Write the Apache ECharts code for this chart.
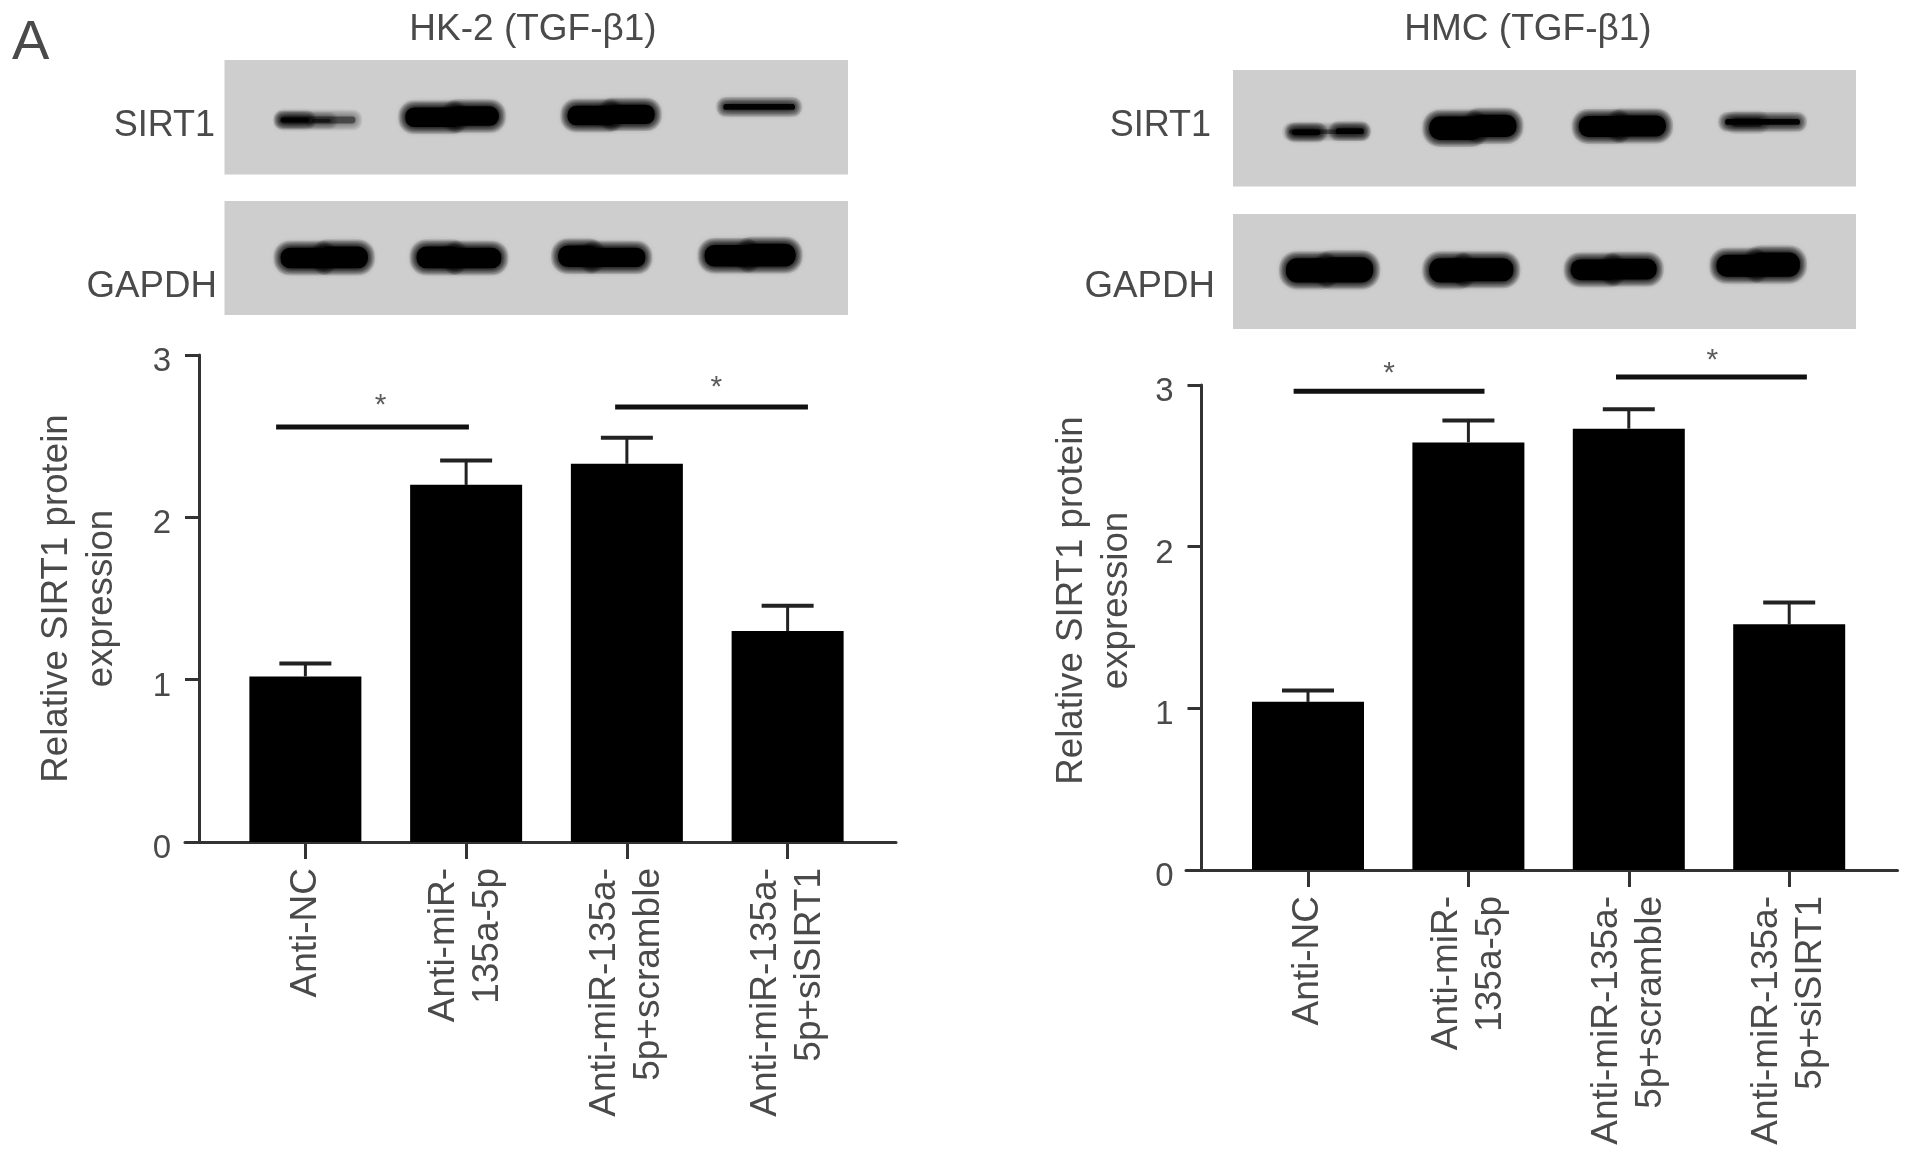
<!DOCTYPE html>
<html><head><meta charset="utf-8">
<style>html,body{margin:0;padding:0;background:#fff}#c{width:1913px;height:1154px;filter:blur(0.6px)}</style>
<script src="https://cdn.jsdelivr.net/npm/echarts@6/dist/echarts.min.js"></script>
</head><body><div id="c"></div>
<script>
// ---- data ----
const categories = ['Anti-NC','Anti-miR-\n135a-5p','Anti-miR-135a-\n5p+scramble','Anti-miR-135a-\n5p+siSIRT1'];
const yTicks = [0,1,2,3];
const yTitle = 'Relative SIRT1 protein\nexpression';
const titleHK = 'HK-2 (TGF-\u03b21)';
const titleHMC = 'HMC (TGF-\u03b21)';

const hkMeans = [1.02,2.20,2.33,1.30];
const hkUpper = [1.10,2.35,2.49,1.455];
const hmcMeans = [1.04,2.645,2.73,1.52];
const hmcUpper = [1.11,2.78,2.85,1.655];

// significance brackets: [fromLane, toLane, level]
const hkSig = [[-0.18,1.02,2.557],[1.93,3.13,2.68]];
const hmcSig = [[-0.09,1.10,2.962],[1.92,3.11,3.05]];
// significance stars: [lane, level]
const hkStars = [[0.47,2.72],[2.56,2.83]];
const hmcStars = [[0.505,3.10],[2.52,3.18]];

// blot bands, in percent of the blot: [start, end, centre, thickness, density]
const hkSirt1Bands = [[9,13.5,52.4,4,1],[9,21,52.4,6,.45],[14,17,53,3,.5],
  [29,38,50,17,1],[36,44,49,17,1],[55,63,48.5,17,1],[61,69,47.5,17,1],[80,91.5,41,5,.95]];
const hkGapdhBands = [[9,17,50,18,1],[15,23,49.5,19,1],[30.8,38,49.5,19,1],[36,44.4,50,18,1],
  [53.5,60,48.5,19,1],[58,67.5,49.5,17,1],[77,85,48,19,1],[83,91.6,47.5,20,1]];
const hmcSirt1Bands = [[9.5,14,53.5,5,1],[16.5,21,52.5,5,.95],[9,21,53,4,.45],
  [31.5,40,50,20,1],[38,45.5,48,19,1],[55.5,63,48.5,18,1],[61,69.5,48,18,1],[79,91,44.6,5,.95],[80,85,45,8,.45]];
const hmcGapdhBands = [[8.5,16,49,21,1],[14,22.5,48.5,22,1],[31.5,38,49,21,1],[36,45,48.5,20,1],
  [54.2,62,48.5,18,1],[60,68,48,18,1],[77.6,85,45,19,1],[83,91,44,21,1]];

// ---- build ----
const ink = '#4a4a4a';
const font = '"Liberation Sans", Arial, sans-serif';
const grid=[], xAxis=[], yAxis=[], series=[];

function band(params, api){
  const a = api.coord([api.value(0), api.value(2)]);
  const b = api.coord([api.value(1), api.value(2)]);
  const t = api.size([0, api.value(3)])[1];
  const d = api.value(4);
  const children = [];
  const steps = 5, fade = 7;
  for(let k=steps;k>=0;k--){
    const e = fade*k/steps;
    const h = t + 2*e, w = b[0]-a[0] + 2*e;
    const alpha = k===0 ? d : 0.14*d;
    children.push({type:'rect',
      shape:{x:a[0]-e, y:a[1]-h/2, width:w, height:h, r:h/2.2},
      style:{fill:'rgba(0,0,0,'+alpha+')', shadowBlur:9, shadowColor:'rgba(0,0,0,'+alpha+')'}});
  }
  return {type:'group', children};
}
function errorBar(params, api){
  const x = api.value(0);
  const bottom = api.coord([x, api.value(1)]);
  const top = api.coord([x, api.value(2)]);
  return {type:'group', children:[
    {type:'line', shape:{x1:top[0], y1:bottom[1], x2:top[0], y2:top[1]}, style:{stroke:'#222', lineWidth:3, fill:null}},
    {type:'line', shape:{x1:top[0]-26, y1:top[1], x2:top[0]+26, y2:top[1]}, style:{stroke:'#222', lineWidth:4, fill:null}}
  ]};
}
function addBlot(rect, bands){
  const i = grid.length;
  grid.push(Object.assign({show:true, backgroundColor:'#cecece', borderWidth:0, outerBoundsMode:'none'}, rect));
  xAxis.push({gridIndex:i, type:'value', min:0, max:100, show:false});
  yAxis.push({gridIndex:i, type:'value', min:0, max:100, inverse:true, show:false});
  series.push({type:'custom', xAxisIndex:i, yAxisIndex:i, silent:true, clip:true,
    renderItem:band, data:bands});
}
function addPanel(p){
  addBlot(p.blot1, p.bands1);
  addBlot(p.blot2, p.bands2);
  // bars, with category and value axes
  let i = grid.length;
  grid.push(Object.assign({outerBoundsMode:'none'}, p.plot));
  xAxis.push({gridIndex:i, type:'category', data:categories, boundaryGap:true,
    axisLine:{show:false},
    axisTick:{show:true, alignWithLabel:true, length:17, lineStyle:{color:'#333', width:3}},
    axisLabel:{interval:0, rotate:90, align:'right', verticalAlign:'middle', margin:26,
      fontFamily:font, fontSize:37, lineHeight:44, color:ink, hideOverlap:false}});
  yAxis.push({gridIndex:i, type:'value', min:0, max:3, interval:1, offset:p.yOffset,
    name:yTitle, nameLocation:'middle', nameGap:p.nameGap, nameRotate:90, nameMoveOverlap:false,
    nameTextStyle:{fontFamily:font, fontSize:36.7, lineHeight:45, color:ink, padding:p.namePadding},
    splitLine:{show:false},
    axisLine:{show:true, lineStyle:{color:'#333', width:3}},
    axisTick:{show:true, length:14, lineStyle:{color:'#333', width:3}},
    axisLabel:{fontFamily:font, fontSize:33, color:ink, margin:28, verticalAlign:'top', lineHeight:14,
      formatter:v => yTicks.includes(v) ? String(v) : ''}});
  series.push({type:'bar', xAxisIndex:i, yAxisIndex:i, data:p.means, barWidth:112,
    itemStyle:{color:'#000'}, silent:true, z:3});
  series.push({type:'custom', xAxisIndex:i, yAxisIndex:i, silent:true, z:2, clip:false,
    encode:{x:0, y:2}, renderItem:errorBar,
    data:p.means.map((m,k)=>[k,m,p.upper[k]])});
  // long baseline and significance marks share a lane-scaled overlay
  i = grid.length;
  grid.push(Object.assign({outerBoundsMode:'none'}, p.overlay));
  xAxis.push({gridIndex:i, type:'value', min:p.laneMin, max:p.laneMax,
    axisLine:{show:true, onZero:false, lineStyle:{color:'#333', width:3}},
    axisTick:{show:false}, axisLabel:{show:false}, splitLine:{show:false}});
  yAxis.push({gridIndex:i, type:'value', min:0, max:3, show:false, splitLine:{show:false}});
  p.sig.forEach(s=>{
    series.push({type:'line', xAxisIndex:i, yAxisIndex:i, clip:false, silent:true, showSymbol:false,
      symbol:'none', z:5, lineStyle:{color:'#111', width:5, cap:'butt'},
      data:[[s[0],s[2]],[s[1],s[2]]]});
  });
  series.push({type:'scatter', xAxisIndex:i, yAxisIndex:i, clip:false, silent:true, symbolSize:1, z:5,
    itemStyle:{color:'transparent'},
    label:{show:true, position:'inside', formatter:'*', fontFamily:font, fontSize:30, color:'#333', offset:[0,5]},
    data:p.stars});
}

addPanel({
  blot1:{left:224.5, top:60, width:623.5, height:114.5}, bands1:hkSirt1Bands,
  blot2:{left:224.5, top:201, width:623.5, height:114}, bands2:hkGapdhBands,
  plot:{left:225, top:355, width:643, height:487},
  overlay:{left:185, top:355, width:711, height:487},
  laneMin:-0.747, laneMax:3.678, yOffset:26, nameGap:75, namePadding:[0,0,0,0],
  means:hkMeans, upper:hkUpper, sig:hkSig, stars:hkStars
});
addPanel({
  blot1:{left:1233, top:70, width:623, height:116.5}, bands1:hmcSirt1Bands,
  blot2:{left:1233, top:214, width:623, height:115}, bands2:hmcGapdhBands,
  plot:{left:1227.8, top:385, width:641.6, height:485},
  overlay:{left:1186, top:385, width:711.5, height:485},
  laneMin:-0.761, laneMax:3.675, yOffset:26.3, nameGap:62, namePadding:[0,0,0,54],
  means:hmcMeans, upper:hmcUpper, sig:hmcSig, stars:hmcStars
});

const txt = (text,left,top,align,size)=>({text,left,top,textAlign:align,
  textStyle:{fontFamily:font,fontWeight:'normal',fontSize:size||36,color:ink}});
const title = [
  txt('A',7,11,'left',56),
  txt(titleHK,528,6,'center',37),
  txt(titleHMC,1523,6,'center',37),
  txt('SIRT1',210,103,'right'),
  txt('GAPDH',212,263,'right',36.7),
  txt('SIRT1',1206,103,'right'),
  txt('GAPDH',1210,263,'right',36.7)
];

const chart = echarts.init(document.getElementById('c'), null, {renderer:'canvas', width:1913, height:1154});
chart.setOption({animation:false, backgroundColor:'#fff', tooltip:{show:false}, legend:{show:false},
  title, grid, xAxis, yAxis, series});
</script></body></html>
